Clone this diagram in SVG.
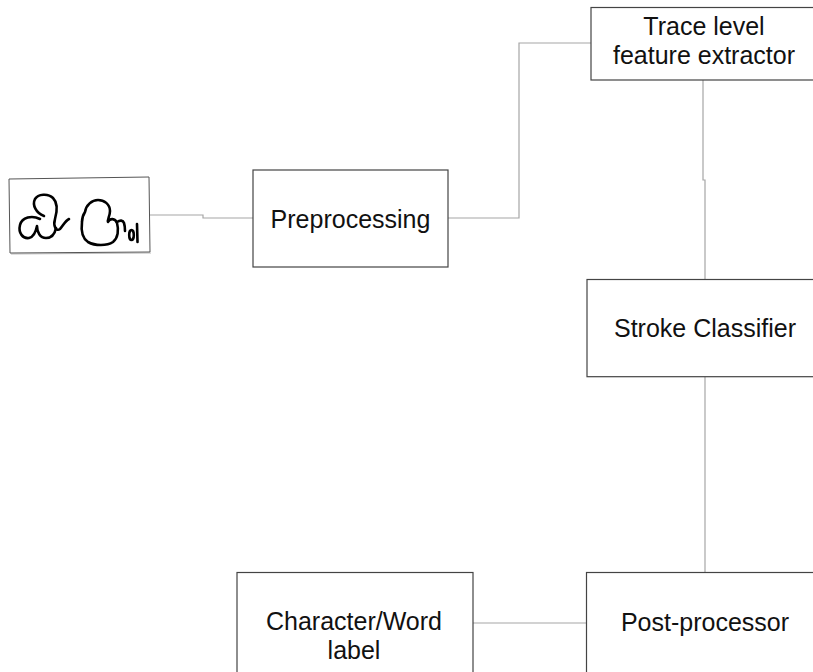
<svg xmlns="http://www.w3.org/2000/svg" width="813" height="672" viewBox="0 0 813 672">
<style>
.box{fill:#fff;stroke:#444;stroke-width:1.2}
.lbl{font-family:"Liberation Sans",Arial,sans-serif;font-size:25px;fill:#111;text-anchor:middle}
.con{fill:none;stroke:#a6a6a6;stroke-width:1.2}
.ink{fill:none;stroke:#000;stroke-width:2.6;stroke-linecap:round;stroke-linejoin:round}
</style>
<rect width="813" height="672" fill="#fff"/>
<g id="connectors">
<path class="con" d="M150,215 H203 V218 H253"/>
<path class="con" d="M448,218 H519 V43 H591"/>
<path class="con" d="M703,80 V180 H705 V279.5"/>
<path class="con" d="M705,377 V572.5"/>
<path class="con" d="M473,623 H586.5"/>
</g>
<g id="input-image">
<path d="M11,254 L151,253" fill="none" stroke="#bbb" stroke-width="1"/>
<polygon points="9,179 149,177 150,252 10,253" fill="#fff" stroke="#555" stroke-width="1"/>
<path class="ink" d="M44,216 C36,213 32,205 35,199 C38,194 48,193 53,198 C58,203 57,212 55,219 C53,226 56,232 60,229 C63,226 65,221 69,219"/>
<path class="ink" d="M40,219 C32,215 22,217 20,225 C18,233 23,239 29,238 C34,237 36,231 37,226 C37,232 40,238 46,238 C52,238 55,233 56,228"/>
<path class="ink" d="M85,212 C86,205 92,200 98,200 C104,200 110,204 110,211 C110,216 107,220 108,222 C110,218 115,218 117,223 C119,230 118,238 113,242 C107,246 95,246 88,242 C82,238 81,230 82,222 C82,218 83,215 85,212"/>
<path class="ink" d="M117,222 C120,220 123,220 124,223 C125,226 125,229 125,231"/>
<ellipse class="ink" cx="131.5" cy="235" rx="2.3" ry="5"/>
<path class="ink" d="M137,224 L137.5,242"/>
</g>
<g id="preprocessing">
<rect class="box" x="253" y="170" width="195" height="97"/>
<text class="lbl" x="350.5" y="228">Preprocessing</text>
</g>
<g id="trace-extractor">
<rect class="box" x="591" y="7.5" width="230" height="72.5"/>
<text class="lbl" x="704" y="35">Trace level</text>
<text class="lbl" x="704" y="64">feature extractor</text>
</g>
<g id="stroke-classifier">
<rect class="box" x="587" y="279.5" width="240" height="97.2"/>
<text class="lbl" x="705" y="337">Stroke Classifier</text>
</g>
<g id="post-processor">
<rect class="box" x="586.5" y="572.5" width="240" height="120"/>
<text class="lbl" x="705" y="631">Post-processor</text>
</g>
<g id="char-word-label">
<rect class="box" x="237" y="572.5" width="236" height="120"/>
<text class="lbl" x="354" y="630">Character/Word</text>
<text class="lbl" x="354" y="659">label</text>
</g>
</svg>
